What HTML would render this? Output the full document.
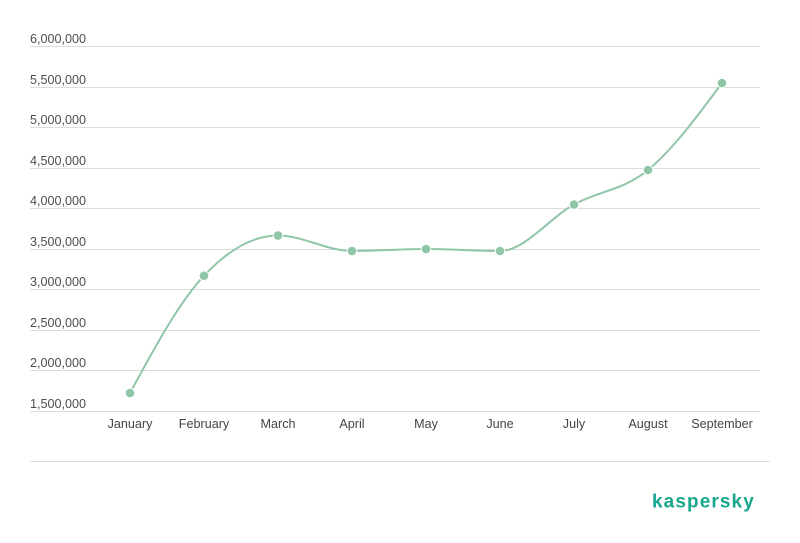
<!DOCTYPE html>
<html>
<head>
<meta charset="utf-8">
<style>
  html, body { margin: 0; padding: 0; background: #ffffff; }
  body { width: 800px; height: 543px; overflow: hidden; }
  svg { display: block; }
  text { font-family: "Liberation Sans", Arial, sans-serif; }
</style>
</head>
<body>
<svg width="800" height="543" viewBox="0 0 800 543" xmlns="http://www.w3.org/2000/svg">
  <rect width="800" height="543" fill="#ffffff"/>
  <!-- gridlines -->
  <g stroke="#dcdcdc" stroke-width="1" fill="none">
    <line x1="30" y1="46.5" x2="760" y2="46.5"/>
    <line x1="30" y1="87.5" x2="760" y2="87.5"/>
    <line x1="30" y1="127.5" x2="760" y2="127.5"/>
    <line x1="30" y1="168.5" x2="760" y2="168.5"/>
    <line x1="30" y1="208.5" x2="760" y2="208.5"/>
    <line x1="30" y1="249.5" x2="760" y2="249.5"/>
    <line x1="30" y1="289.5" x2="760" y2="289.5"/>
    <line x1="30" y1="330.5" x2="760" y2="330.5"/>
    <line x1="30" y1="370.5" x2="760" y2="370.5"/>
    <line x1="30" y1="411.5" x2="760" y2="411.5"/>
    <line x1="30" y1="461.5" x2="770" y2="461.5"/>
  </g>
  <!-- y labels -->
  <g fill="#4d4d4d" font-size="12.6">
    <text x="30" y="43">6,000,000</text>
    <text x="30" y="84">5,500,000</text>
    <text x="30" y="124">5,000,000</text>
    <text x="30" y="165">4,500,000</text>
    <text x="30" y="205">4,000,000</text>
    <text x="30" y="246">3,500,000</text>
    <text x="30" y="286">3,000,000</text>
    <text x="30" y="327">2,500,000</text>
    <text x="30" y="367">2,000,000</text>
    <text x="30" y="408">1,500,000</text>
  </g>
  <!-- x labels -->
  <g fill="#444444" font-size="12.6" text-anchor="middle">
    <text x="130" y="428">January</text>
    <text x="204" y="428">February</text>
    <text x="278" y="428">March</text>
    <text x="352" y="428">April</text>
    <text x="426" y="428">May</text>
    <text x="500" y="428">June</text>
    <text x="574" y="428">July</text>
    <text x="648" y="428">August</text>
    <text x="722" y="428">September</text>
  </g>
  <!-- series -->
  <path d="M130,393 C154.67,347.48 179.33,301.95 204,275.7 C228.67,249.45 253.33,235.5 278,235.5 C302.67,235.5 327.33,251 352,251 C376.67,251 401.33,249 426,249 C450.67,249 475.33,251 500,251 C524.67,251 549.33,217.99 574,204.5 C598.67,191.01 623.33,190.25 648,170 C672.67,149.75 697.33,116.39 722,83"
        fill="none" stroke="#8fc6a8" stroke-width="2" stroke-linejoin="round" stroke-linecap="round"/>
  <g fill="#8fc6a8" stroke="#ffffff" stroke-width="1">
    <circle cx="130" cy="393" r="4.8"/>
    <circle cx="204" cy="275.7" r="4.8"/>
    <circle cx="278" cy="235.5" r="4.8"/>
    <circle cx="352" cy="251" r="4.8"/>
    <circle cx="426" cy="249" r="4.8"/>
    <circle cx="500" cy="251" r="4.8"/>
    <circle cx="574" cy="204.5" r="4.8"/>
    <circle cx="648" cy="170" r="4.8"/>
    <circle cx="722" cy="83" r="4.8"/>
  </g>
  <!-- logo -->
  <text x="652" y="507.5" font-size="19" font-weight="bold" fill="#17a78d" letter-spacing="1.1">kaspersky</text>
</svg>
</body>
</html>
